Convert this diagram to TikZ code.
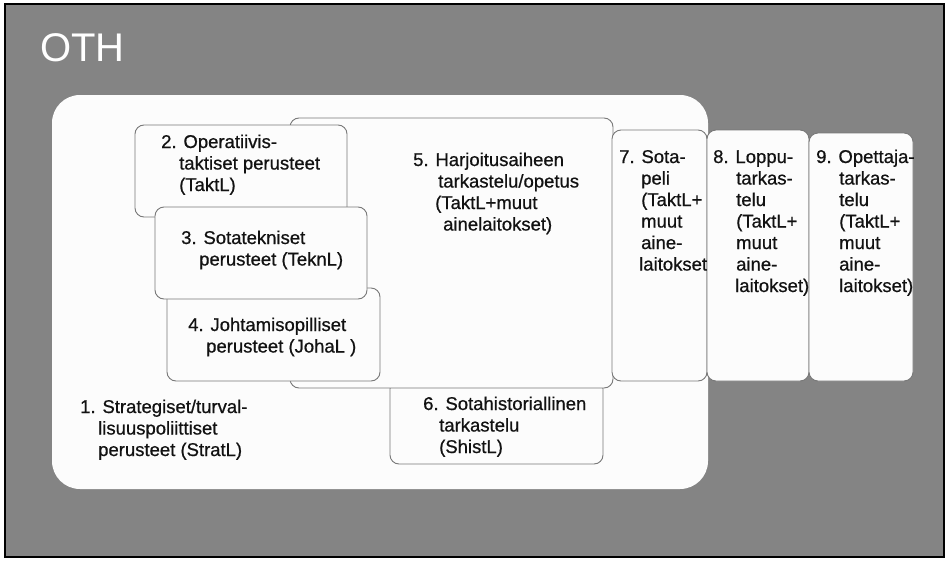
\documentclass[tikz,border=0pt]{standalone}
\usepackage{fontspec}
\setmainfont{Liberation Sans}
\newfontfamily\heavyfont[FakeBold=0.7]{Liberation Sans}
\definecolor{bggray}{RGB}{132,132,132}
\definecolor{edgegray}{RGB}{120,120,120}
\definecolor{ink}{RGB}{18,18,18}
\definecolor{paper}{RGB}{252,252,252}
\newcommand\indn[1]{\hspace*{#1pt}}
\tikzset{
  panel/.style={draw=edgegray, line width=0.9pt, fill=paper, rounded corners=9pt, inner sep=0pt, outer sep=0pt},
  lbl/.style={anchor=base west, align=left, inner sep=0pt, text=ink, font=\heavyfont\fontsize{18.5}{21.5}\selectfont},
}
\begin{document}
\begin{tikzpicture}[x=1pt, y=-1pt]
\useasboundingbox (0,0) rectangle (950,562);
\fill[white] (0,0) rectangle (950,562);
% background
\node[draw=black, line width=1.6pt, fill=bggray, inner sep=0pt, minimum width=939pt, minimum height=553pt] (bg) at (474.5,280.5) {};
\node[anchor=base west, inner sep=0pt, text=white, font=\fontsize{40}{44}\selectfont] (title) at (40,61) {OTH};
% big white area
\node[fill=paper, rounded corners=28pt, inner sep=0pt, minimum width=656pt, minimum height=394pt] (s1) at (380,292) {};
% boxes
\node[panel, minimum width=213pt, minimum height=84pt] (b6) at (496.5,422) {};
\node[panel, minimum width=323pt, minimum height=270pt] (b5) at (451.5,253) {};
\node[panel, minimum width=212pt, minimum height=92pt] (b2) at (241,171) {};
\node[panel, minimum width=213pt, minimum height=93pt] (b4) at (273.5,334.5) {};
\node[panel, minimum width=212pt, minimum height=92pt] (b3) at (261,253) {};
\node[panel, minimum width=95pt, minimum height=251pt] (b7) at (659.5,255.5) {};
\node[panel, minimum width=102pt, minimum height=251pt] (b8) at (758,255.5) {};
\node[panel, minimum width=104pt, minimum height=248pt] (b9) at (861,257) {};
% texts (anchor = baseline of the last line)
\node[lbl] (t1) at (80,456) {1. Strategiset/turval-\\\indn{18}lisuuspoliittiset\\\indn{18}perusteet (StratL)};
\node[lbl] (t2) at (161,191) {2. Operatiivis-\\\indn{18}taktiset perusteet\\\indn{18}(TaktL)};
\node[lbl] (t3) at (181,265.5) {3. Sotatekniset\\\indn{18}perusteet (TeknL)};
\node[lbl] (t4) at (188,352.5) {4. Johtamisopilliset\\\indn{18}perusteet (JohaL )};
\node[lbl] (t5) at (413,230.5) {5. Harjoitusaiheen\\\indn{25}tarkastelu/opetus\\\indn{22}(TaktL+muut\\\indn{30}ainelaitokset)};
\node[lbl] (t6) at (423,453) {6. Sotahistoriallinen\\\indn{16}tarkastelu\\\indn{16}(ShistL)};
\node[lbl] (t7) at (619,270.5) {7. Sota-\\\indn{22}peli\\\indn{22}(TaktL+\\\indn{22}muut\\\indn{22}aine-\\\indn{20}laitokset};
\node[lbl] (t8) at (713,292) {8. Loppu-\\\indn{23}tarkas-\\\indn{23}telu\\\indn{23}(TaktL+\\\indn{23}muut\\\indn{23}aine-\\\indn{22}laitokset)};
\node[lbl] (t9) at (816,292) {9. Opettaja-\\\indn{23}tarkas-\\\indn{23}telu\\\indn{23}(TaktL+\\\indn{23}muut\\\indn{23}aine-\\\indn{23}laitokset)};
\end{tikzpicture}
\end{document}
